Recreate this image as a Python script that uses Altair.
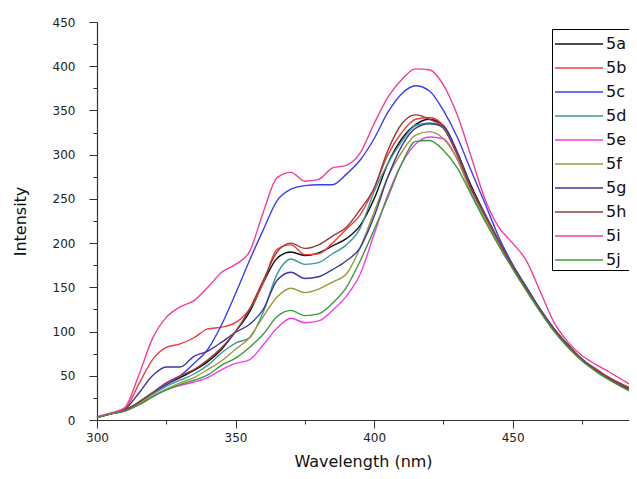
import altair as alt
import pandas as pd

wavelength = [300, 305, 310, 315, 320, 325, 330, 335, 340, 345,
              350, 355, 360, 365, 370, 375, 380, 385, 390, 395,
              400, 405, 410, 415, 420, 425, 430, 435, 440, 445,
              450, 455, 460, 465, 470, 475, 480, 485, 492]

s5a = [3, 7, 11, 20, 30, 40, 48, 56, 66, 80,
       100, 122, 155, 183, 190, 186, 189, 197, 205, 220,
       250, 290, 318, 334, 340, 333, 303, 265, 233, 203,
       175, 150, 125, 103, 85, 69, 57, 47, 35]
s5b = [3, 7, 12, 40, 68, 82, 86, 93, 103, 105,
       110, 125, 155, 193, 198, 187, 188, 200, 216, 232,
       262, 300, 325, 340, 342, 333, 300, 262, 232, 202,
       174, 148, 124, 102, 84, 68, 58, 48, 37]
s5c = [3, 7, 11, 19, 30, 40, 50, 64, 80, 108,
       143, 180, 215, 248, 261, 265, 266, 266, 278, 294,
       318, 348, 369, 378, 372, 350, 320, 282, 245, 207,
       176, 150, 125, 103, 84, 69, 57, 47, 36]
s5d = [3, 7, 11, 19, 29, 38, 45, 52, 62, 76,
       87, 93, 122, 165, 182, 176, 178, 188, 198, 217,
       258, 290, 315, 333, 336, 330, 302, 262, 232, 202,
       174, 149, 124, 102, 84, 68, 56, 46, 35]
s5e = [3, 7, 10, 17, 26, 34, 39, 43, 48, 57,
       64, 68, 85, 104, 115, 110, 112, 124, 140, 165,
       210, 255, 290, 312, 320, 318, 295, 258, 228, 198,
       172, 147, 123, 101, 83, 68, 56, 46, 34]
s5f = [3, 7, 11, 18, 27, 35, 42, 48, 57, 67,
       80, 93, 117, 139, 149, 144, 148, 156, 165, 195,
       235, 275, 303, 322, 326, 318, 295, 257, 228, 198,
       172, 147, 123, 101, 83, 67, 56, 46, 34]
s5g = [3, 7, 12, 30, 50, 60, 60, 72, 78, 88,
       99, 108, 125, 158, 167, 160, 162, 170, 180, 195,
       230, 275, 310, 330, 335, 332, 302, 262, 232, 202,
       174, 149, 124, 102, 84, 68, 56, 46, 35]
s5h = [3, 7, 11, 20, 31, 42, 50, 57, 68, 82,
       100, 125, 158, 190, 200, 194, 198, 208, 218, 238,
       262, 305, 335, 345, 340, 330, 300, 262, 232, 202,
       174, 148, 124, 102, 84, 68, 57, 47, 36]
s5i = [4, 8, 14, 50, 92, 116, 128, 135, 150, 167,
       176, 190, 235, 274, 280, 270, 272, 285, 288, 302,
       335, 365, 385, 397, 396, 379, 345, 298, 250, 218,
       200, 180, 145, 110, 88, 73, 63, 54, 41]
s5j = [3, 7, 10, 17, 26, 34, 40, 45, 51, 62,
       70, 82, 97, 117, 124, 118, 120, 132, 150, 180,
       215, 252, 290, 315, 316, 305, 285, 255, 225, 197,
       171, 146, 122, 100, 82, 67, 55, 45, 33]

series_names = ["5a", "5b", "5c", "5d", "5e", "5f", "5g", "5h", "5i", "5j"]
series_values = [s5a, s5b, s5c, s5d, s5e, s5f, s5g, s5h, s5i, s5j]
colors = ["#111111", "#f03c3c", "#3c3cf5", "#3a9a9a", "#f23cf2",
          "#9a9a3a", "#3a3a9a", "#9a3a3a", "#f53c9c", "#3a9a3a"]

x_ticks = [300, 325, 350, 375, 400, 425, 450, 475]
y_ticks = list(range(0, 451, 25))

rows = []
for name, vals in zip(series_names, series_values):
    for w, v in zip(wavelength, vals):
        rows.append({"Wavelength": w, "Intensity": v, "series": name})
df = pd.DataFrame(rows)

FONT = "DejaVu Sans"

x_axis = alt.Axis(
    title="Wavelength (nm)", values=x_ticks,
    labelExpr="datum.value % 50 === 0 ? datum.label : ''",
    tickSize={"condition": {"test": "datum.value % 50 === 0", "value": 8}, "value": 4},
    labelOverlap=False, labelFlush=False, grid=False,
    labelFont=FONT, labelFontSize=12, labelColor="#222222", labelPadding=4,
    titleFont=FONT, titleFontSize=16, titleFontWeight="normal", titleColor="#111111",
    titlePadding=10, domainColor="#333333", tickColor="#333333", domainWidth=1.2,
)
y_axis = alt.Axis(
    title="Intensity", values=y_ticks,
    labelExpr="datum.value % 50 === 0 ? datum.label : ''",
    tickSize={"condition": {"test": "datum.value % 50 === 0", "value": 8}, "value": 4},
    labelOverlap=False, labelFlush=False, grid=False,
    labelFont=FONT, labelFontSize=12, labelColor="#222222", labelPadding=14,
    titleFont=FONT, titleFontSize=16, titleFontWeight="normal", titleColor="#111111",
    titlePadding=24, domainColor="#333333", tickColor="#333333", domainWidth=1.2,
)

chart = alt.Chart(df).mark_line(strokeWidth=1.4, interpolate="monotone").encode(
    x=alt.X("Wavelength:Q", scale=alt.Scale(domain=[300, 492], nice=False, zero=False), axis=x_axis),
    y=alt.Y("Intensity:Q", scale=alt.Scale(domain=[0, 450], nice=False), axis=y_axis),
    color=alt.Color(
        "series:N",
        scale=alt.Scale(domain=series_names, range=colors),
        legend=alt.Legend(
            title=None, orient="none", legendX=455, legendY=7,
            symbolType="M-1,0H3", symbolSize=576, symbolStrokeWidth=1.5,
            labelFont=FONT, labelFontSize=16, labelColor="#111111",
            strokeColor="black", fillColor="white", padding=2, rowPadding=3,
            labelOffset=26,
        ),
    ),
    order=alt.Order("series:N"),
).properties(
    width=532, height=398,
    autosize=alt.AutoSizeParams(type="none"),
    padding={"left": 89, "top": 14, "right": 0, "bottom": 50},
).configure_view(stroke="transparent")

chart.save("out.html", embed_options={"renderer": "svg", "actions": False})
